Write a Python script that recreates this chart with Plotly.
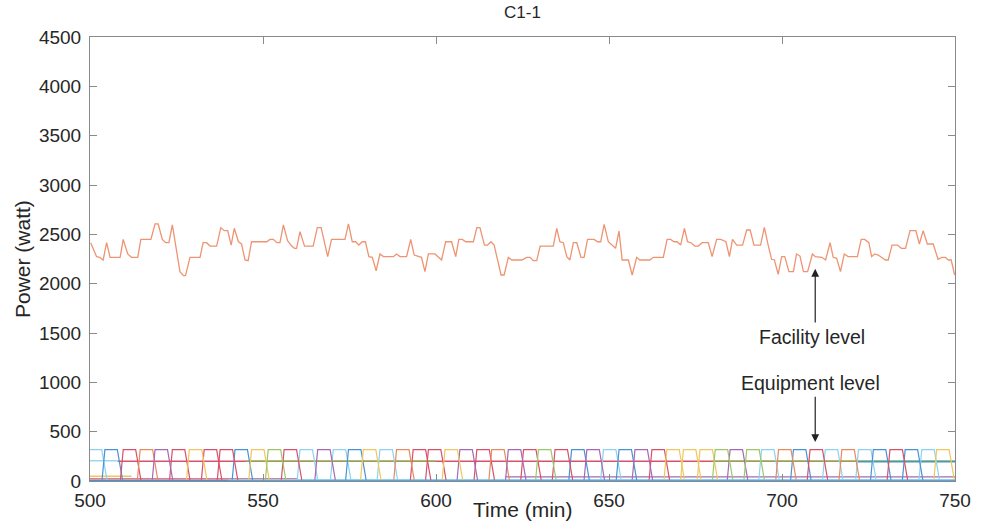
import plotly.graph_objects as go

# ---------------- data ----------------
t_fac = [500.2, 501.9, 502.8, 503.8, 504.8, 505.8, 508.7, 509.6, 510.9, 512.0, 513.8, 514.7, 517.6,
         518.8, 519.7, 520.9, 521.9, 522.8, 523.8, 524.8, 526.0, 527.0, 527.6, 528.9, 531.8, 532.7,
         533.7, 534.7, 536.6, 537.8, 538.8, 539.8, 540.8, 541.7, 542.9, 543.8, 544.8, 545.7, 546.7,
         551.1, 552.0, 553.0, 554.0, 554.9, 555.9, 557.1, 558.3, 559.1, 559.7, 560.7, 562.0, 564.5,
         565.7, 566.8, 568.7, 569.8, 573.7, 574.7, 575.8, 576.8, 577.7, 578.7, 579.6, 580.6, 581.6,
         582.7, 583.8, 584.8, 587.7, 588.6, 589.6, 591.5, 592.7, 593.7, 594.9, 595.8, 596.8, 597.8,
         599.7, 601.6, 602.8, 604.5, 605.7, 606.6, 607.6, 608.6, 610.8, 611.8, 612.7, 614.0, 614.9,
         615.9, 616.8, 618.8, 619.7, 620.9, 621.9, 624.8, 626.2, 627.2, 628.1, 629.1, 630.1, 633.9,
         634.9, 635.8, 636.8, 637.8, 638.7, 639.7, 640.7, 641.9, 642.8, 643.8, 645.7, 646.7, 647.6,
         648.6, 649.8, 650.9, 651.9, 652.9, 653.8, 655.6, 656.7, 658.0, 658.9, 661.8, 662.8, 665.7,
         666.8, 667.8, 668.8, 669.7, 670.7, 671.8, 672.7, 673.7, 674.8, 675.8, 676.9, 678.7, 679.8,
         681.1, 682.3, 683.8, 684.8, 685.7, 686.9, 688.6, 689.8, 690.8, 691.9, 693.8, 694.9, 696.0,
         697.0, 697.8, 698.9, 699.9, 700.8, 702.0, 703.3, 704.2, 705.2, 706.2, 707.4, 708.8, 709.6,
         711.5, 712.6, 713.9, 714.8, 715.8, 716.9, 718.0, 719.1, 721.8, 722.9, 723.9, 725.1, 725.9,
         726.8, 727.8, 728.8, 729.9, 730.7, 731.8, 733.4, 734.5, 735.7, 737.0, 738.7, 739.7, 740.8,
         742.0, 743.7, 745.1, 746.2, 747.2, 748.1, 748.9, 749.9]
w_fac = [2415, 2274, 2267, 2240, 2415, 2267, 2267, 2449, 2301, 2267, 2267, 2449, 2449,
         2605, 2605, 2449, 2415, 2415, 2595, 2358, 2122, 2081, 2081, 2267, 2267, 2415,
         2415, 2381, 2381, 2568, 2537, 2537, 2391, 2561, 2425, 2402, 2240, 2233, 2425,
         2425, 2449, 2449, 2415, 2415, 2595, 2435, 2381, 2358, 2358, 2527, 2381, 2381,
         2568, 2568, 2274, 2449, 2449, 2605, 2425, 2425, 2391, 2425, 2425, 2274, 2267,
         2131, 2301, 2274, 2274, 2301, 2274, 2274, 2449, 2290, 2280, 2267, 2122, 2301,
         2301, 2240, 2425, 2425, 2274, 2449, 2449, 2425, 2425, 2568, 2568, 2391, 2391,
         2425, 2391, 2088, 2088, 2267, 2240, 2240, 2267, 2267, 2233, 2233, 2381, 2381,
         2561, 2425, 2415, 2274, 2240, 2415, 2415, 2267, 2267, 2449, 2449, 2425, 2425,
         2601, 2425, 2391, 2358, 2534, 2240, 2240, 2088, 2267, 2240, 2240, 2267, 2267,
         2449, 2449, 2425, 2425, 2391, 2561, 2425, 2415, 2381, 2381, 2415, 2415, 2274,
         2449, 2449, 2425, 2274, 2449, 2391, 2391, 2544, 2544, 2391, 2391, 2571, 2391,
         2247, 2240, 2095, 2274, 2274, 2122, 2122, 2301, 2280, 2122, 2122, 2301, 2274,
         2267, 2240, 2415, 2267, 2257, 2122, 2301, 2274, 2274, 2449, 2449, 2415, 2274,
         2301, 2290, 2267, 2240, 2240, 2391, 2391, 2358, 2358, 2537, 2537, 2402, 2537,
         2402, 2402, 2247, 2267, 2267, 2240, 2240, 2088]

# equipment pulse (full-power) start times, minutes, per machine
pulse_lightblue = [499.8, 560.7, 570.3, 583.8, 648.4, 694.1, 712.5, 722.1, 740.4]
pulse_blue = [504.3, 541.9, 574.7, 639.2, 652.9, 703.3, 726.4, 735.6]
pulse_red = [509.6, 523.8, 533.0, 537.6, 556.1, 593.4, 597.8, 611.8, 625.3, 634.4, 662.4, 708.1, 731.2]
pulse_orange = [514.5, 588.6, 616.1, 699.0, 717.3]
pulse_purple = [518.8, 565.8, 606.9, 620.9, 643.6, 657.5, 685.0]
pulse_yellow = [528.7, 546.7, 579.0, 602.6, 666.7, 671.5, 676.3, 744.7]
pulse_green = [551.5, 629.6, 680.7, 689.8]
pulse_power = 318  # watt at full power
idle_power = 12

# standby / low-level segments
standby_machine = ["lightblue", "red", "green", "green", "blue", "yellow", "red", "blue", "lightblue", "purple"]
standby_start = [500, 508, 545, 680, 722, 500, 500, 500, 540, 620]
standby_end = [508, 750, 600, 750, 750, 512, 560, 750, 750, 750]
standby_watt = [205, 200, 205, 205, 195, 48, 22, 6, 14, 42]

x_ticks = [500, 550, 600, 650, 700, 750]
y_ticks = [0, 500, 1000, 1500, 2000, 2500, 3000, 3500, 4000, 4500]

# ---------------- styles ----------------
colors = {
    "blue": "#4a93d3",
    "orange": "#e98a5f",
    "yellow": "#f0c75e",
    "purple": "#a569b6",
    "green": "#9cc86a",
    "lightblue": "#8dd2f0",
    "red": "#d9506a",
}
facility_color = "#ee9473"
rise, top, fall = 0.8, 3.6, 1.5

pulses = {
    "lightblue": pulse_lightblue, "blue": pulse_blue, "red": pulse_red,
    "orange": pulse_orange, "purple": pulse_purple, "yellow": pulse_yellow,
    "green": pulse_green,
}

fig = go.Figure()

for m, s, e, w in zip(standby_machine, standby_start, standby_end, standby_watt):
    fig.add_trace(go.Scatter(x=[s, e], y=[w, w], mode="lines",
                             line=dict(color=colors[m], width=1.3), showlegend=False,
                             hoverinfo="skip"))

for m, starts in pulses.items():
    xs, ys = [], []
    for t0 in starts:
        xs += [t0 - rise, t0, t0 + top, t0 + top + fall, None]
        ys += [idle_power, pulse_power, pulse_power, idle_power, None]
    fig.add_trace(go.Scatter(x=xs, y=ys, mode="lines", connectgaps=False,
                             line=dict(color=colors[m], width=1.2), showlegend=False))

fig.add_trace(go.Scatter(x=t_fac, y=w_fac, mode="lines",
                         line=dict(color=facility_color, width=1.3), showlegend=False))

font_family = "Arial, Liberation Sans, sans-serif"
txt = "#262626"

fig.add_annotation(x=708.7, y=1460, text="Facility level", showarrow=False,
                   font=dict(family=font_family, size=19.5, color=txt))
fig.add_annotation(x=709.6, y=2150, ax=709.6, ay=1590, xref="x", yref="y",
                   axref="x", ayref="y", text="", showarrow=True,
                   arrowhead=2, arrowsize=1.3, arrowwidth=1.2, arrowcolor="#222")
fig.add_annotation(x=708.2, y=993, text="Equipment level", showarrow=False,
                   font=dict(family=font_family, size=19.5, color=txt))
fig.add_annotation(x=709.6, y=395, ax=709.6, ay=870, xref="x", yref="y",
                   axref="x", ayref="y", text="", showarrow=True,
                   arrowhead=2, arrowsize=1.3, arrowwidth=1.2, arrowcolor="#222")

# axis titles placed as paper annotations
fig.add_annotation(x=0.5, y=-28 / 444, xref="paper", yref="paper", text="Time (min)",
                   showarrow=False, xanchor="center", yanchor="middle",
                   font=dict(family=font_family, size=21, color=txt))
fig.add_annotation(x=-68 / 865, y=0.5, xref="paper", yref="paper", text="Power (watt)",
                   textangle=-90, showarrow=False, xanchor="center", yanchor="middle",
                   font=dict(family=font_family, size=21, color=txt))

axis_common = dict(showline=True, mirror="ticks", linecolor="#8a8a8a", linewidth=1,
                   ticks="inside", ticklen=7, tickcolor="#8a8a8a", showgrid=False,
                   zeroline=False, automargin=False,
                   tickfont=dict(family=font_family, size=19, color=txt))

fig.update_layout(
    width=981, height=528, autosize=False,
    margin=dict(l=90, r=26, t=37, b=47),
    paper_bgcolor="white", plot_bgcolor="white",
    title=dict(text="C1-1", x=0.5, xref="paper", y=1 - 12 / 528, yref="container",
               xanchor="center", yanchor="middle",
               font=dict(family=font_family, size=17, color=txt)),
    xaxis=dict(range=[500, 750], tickvals=x_ticks, ticklabelstandoff=2, **axis_common),
    yaxis=dict(range=[0, 4500], tickvals=y_ticks, ticklabelstandoff=4, **axis_common),
)

fig.write_html("out.html", config={"displayModeBar": False},
               post_script="document.body.style.margin='0';document.body.style.overflow='hidden';")
